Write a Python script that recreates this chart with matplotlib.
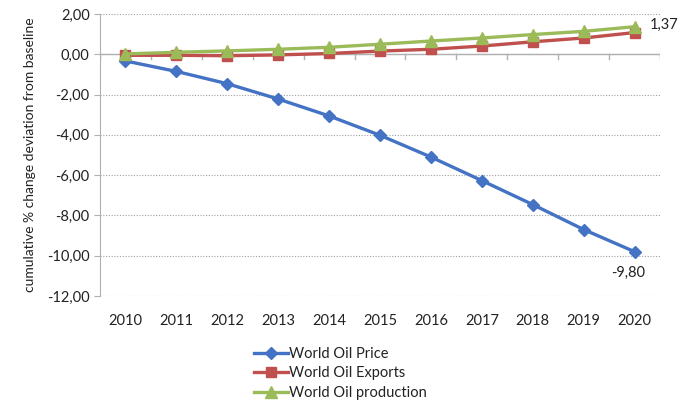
import matplotlib
matplotlib.use("Agg")
import matplotlib.pyplot as plt
from matplotlib.ticker import FixedLocator, FuncFormatter

years = ["2010", "2011", "2012", "2013", "2014", "2015", "2016", "2017", "2018", "2019", "2020"]
oil_price = [-0.33, -0.85, -1.46, -2.22, -3.06, -4.02, -5.10, -6.27, -7.46, -8.70, -9.80]
oil_exports = [-0.05, -0.05, -0.07, -0.03, 0.04, 0.16, 0.25, 0.41, 0.62, 0.81, 1.08]
oil_production = [0.02, 0.10, 0.17, 0.25, 0.35, 0.50, 0.66, 0.81, 0.98, 1.14, 1.37]
yticks = [2, 0, -2, -4, -6, -8, -10, -12]

plt.rcParams['font.family'] = ['Lato', 'DejaVu Sans']

fig = plt.figure(figsize=(6.78, 4.04), dpi=100)
ax = fig.add_axes([0.1475, 0.2673, 0.826, 0.698])

x = list(range(len(years)))
blue = "#4472C4"
red = "#C0504D"
green = "#9BBB59"

ax.plot(x, oil_price, color=blue, lw=2.4, marker="D", ms=6.5, label="World Oil Price", zorder=3)
ax.plot(x, oil_exports, color=red, lw=2.4, marker="s", ms=7.5, label="World Oil Exports", zorder=4)
ax.plot(x, oil_production, color=green, lw=2.4, marker="^", ms=8, label="World Oil production", zorder=5)

ax.set_xlim(-0.5, len(years) - 0.5)
ax.set_ylim(-12, 2)
ax.yaxis.set_major_locator(FixedLocator(yticks))
ax.yaxis.set_major_formatter(FuncFormatter(lambda v, p: f"{v:.2f}".replace(".", ",")))
ax.grid(axis="y", color="#a0a0a0", linestyle=(0, (1, 1.5)), lw=0.8)
ax.set_axisbelow(True)

for s in ["top", "right", "bottom"]:
    ax.spines[s].set_visible(False)
ax.spines["left"].set_color("#b0b0b0")
ax.axhline(0, color="#b0b0b0", lw=1, zorder=1)

ax.set_xticks(x)
ax.set_xticklabels(years)
ax.tick_params(axis="x", length=0, pad=13, labelsize=10.5, colors="#222222")
ax.tick_params(axis="y", length=4, color="#b0b0b0", labelsize=10.5, colors="#222222")
# tick marks on the zero line
for i in range(len(years) + 1):
    ax.plot([i - 0.5, i - 0.5], [0, -0.25], color="#b0b0b0", lw=1, zorder=1)

ax.set_ylabel("cumulative % change deviation from baseline", fontsize=10, color="#222222", labelpad=8)

ax.annotate(f"{oil_production[-1]:.2f}".replace(".", ","), (x[-1], oil_production[-1]),
            xytext=(11, 1), textcoords="offset points", ha="left", va="center", fontsize=10.5, color="#222222")
ax.annotate(f"{oil_price[-1]:.2f}".replace(".", ","), (x[-1], oil_price[-1]),
            xytext=(-5, -10), textcoords="offset points", ha="center", va="top", fontsize=10.5, color="#222222")

leg = fig.legend(loc="upper left", bbox_to_anchor=(0.364, 0.16), frameon=False, fontsize=10.5,
                 handlelength=2.3, handletextpad=0.1, labelspacing=0.4, borderpad=0)
for t in leg.get_texts():
    t.set_color("#222222")

fig.savefig("out.png", dpi=100)
